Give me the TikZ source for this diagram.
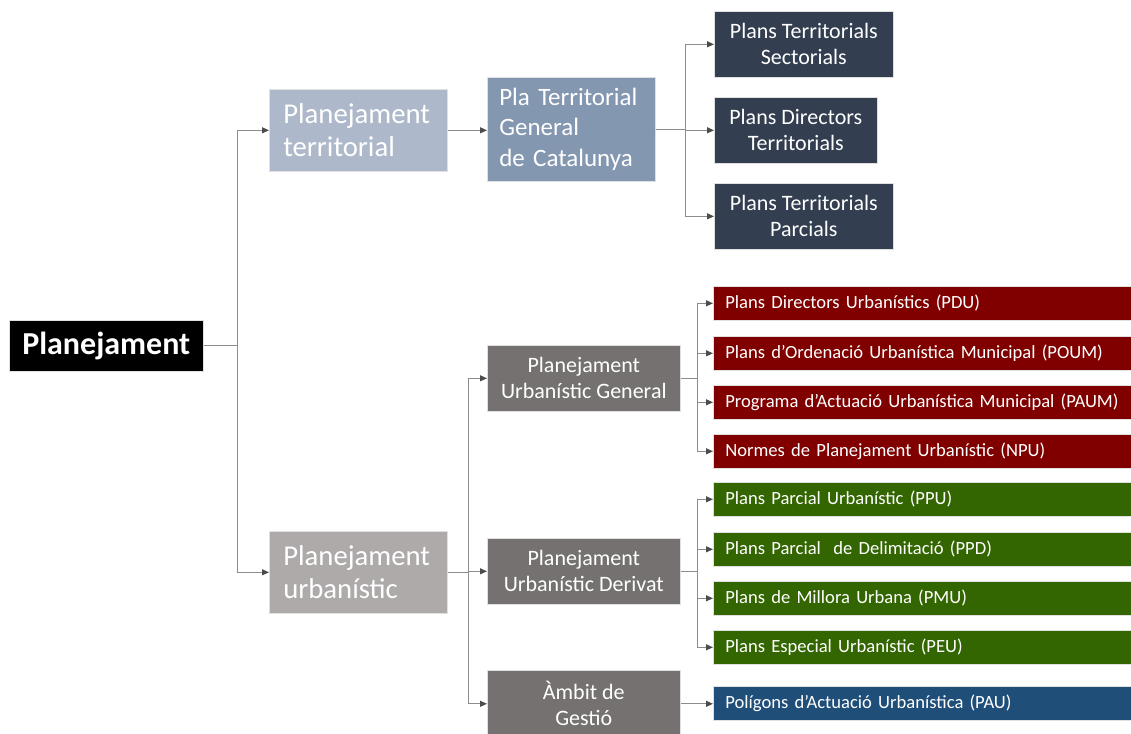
\documentclass[tikz,border=0pt]{standalone}
\usepackage{fontspec}
\setmainfont{Carlito}
\usetikzlibrary{arrows.meta}
\definecolor{terlight}{HTML}{ADB9CA}
\definecolor{termid}{HTML}{8497B0}
\definecolor{terdark}{HTML}{333F50}
\definecolor{urblight}{HTML}{AEAAAA}
\definecolor{urbmid}{HTML}{767171}
\definecolor{urbred}{HTML}{800000}
\definecolor{urbgreen}{HTML}{336600}
\definecolor{urbblue}{HTML}{1F4E79}
\definecolor{linkgray}{HTML}{8C8C8C}
\tikzset{
box/.style = { rectangle, anchor = north west, text = white, inner sep = 0pt, draw = black!12, line width = 0.6pt },
root/.style = { box, fill = black, minimum width = 194pt, minimum height = 51pt, font = \fontsize{32}{36}\selectfont\bfseries },
branch/.style = { box, fill = #1, text width = 150pt, inner xsep = 14pt, minimum height = 82pt, align = left, font = \fontsize{28.7}{33}\selectfont },
ptgc/.style = { box, fill = termid, text width = 144pt, inner xsep = 12pt, minimum height = 104pt, align = left, font = \fontsize{25}{30.5}\selectfont },
group/.style args = {#1, #2}{ box, fill = #1, minimum width = #2, minimum height = 66pt, align = center, font = \fontsize{22}{26}\selectfont },
leaf/.style = { box, fill = #1, text width = 405pt, inner xsep = 12pt, minimum height = 34pt, align = left, font = \fontsize{18.6}{21}\selectfont },
link/.style = { draw = linkgray, line width = 1.1pt, -{Triangle[length = 7pt, width = 6pt, color = black!70]} },
}
\begin{document}
\begin{tikzpicture}[x = 1pt, y = -1pt]
  \useasboundingbox (0, 0) rectangle (1131, 733);
  \node[root] (root) at (9, 320) {Planejament};
  \node[branch = terlight] (terr) at (269, 89) {Planejament\\territorial};
  \node[branch = urblight] (urb) at (269, 531) {Planejament\\urbanístic};
  \node[ptgc] (ptgc) at (487, 77) {Pla Territorial\\General\\de Catalunya};
  % territorial plans
  \node[group = {terdark, 179pt}] (pts) at (714, 11) {Plans Territorials\\Sectorials};
  \node[group = {terdark, 163pt}] (pdt) at (714, 97) {Plans Directors\\Territorials};
  \node[group = {terdark, 179pt}] (ptp) at (714, 183) {Plans Territorials\\Parcials};
  % urban plans
  \node[group = {urbmid, 193pt}] (pug) at (487, 345) {Planejament\\Urbanístic General};
  \node[group = {urbmid, 193pt}] (pud) at (487, 538) {Planejament\\Urbanístic Derivat};
  \node[group = {urbmid, 193pt}, minimum height = 67pt] (gest) at (487, 670) {Àmbit de\\Gestió};
  \node[leaf = urbred] (pdu) at (713, 286) {Plans Directors Urbanístics (PDU)};
  \node[leaf = urbred] (poum) at (713, 336) {Plans d’Ordenació Urbanística Municipal (POUM)};
  \node[leaf = urbred] (paum) at (713, 385) {Programa d’Actuació Urbanística Municipal (PAUM)};
  \node[leaf = urbred] (npu) at (713, 434) {Normes de Planejament Urbanístic (NPU)};
  \node[leaf = urbgreen] (ppu) at (713, 482) {Plans Parcial Urbanístic (PPU)};
  \node[leaf = urbgreen] (ppd) at (713, 532) {Plans Parcial~ de Delimitació (PPD)};
  \node[leaf = urbgreen] (pmu) at (713, 581) {Plans de Millora Urbana (PMU)};
  \node[leaf = urbgreen] (peu) at (713, 630) {Plans Especial Urbanístic (PEU)};
  \node[leaf = urbblue] (pau) at (713, 686) {Polígons d’Actuació Urbanística (PAU)};
  % connectors
  \draw[link] (root.east) -- ++(34, 0) |- (terr.west);
  \draw[link] (root.east) -- ++(34, 0) |- (urb.west);
  \draw[link] (terr.east) -- (terr.east -| ptgc.west);
  \draw[link] (ptgc.east) -- ++(30, 0) |- (pts.west);
  \draw[link] (ptgc.east) -- ++(30, 0) |- (pdt.west);
  \draw[link] (ptgc.east) -- ++(30, 0) |- (ptp.west);
  \draw[link] (urb.east) -- ++(21, 0) |- (pug.west);
  \draw[link] (urb.east) -- ++(21, 0) |- (pud.west);
  \draw[link] (urb.east) -- ++(21, 0) |- (gest.west);
  \draw[link] (pug.east) -- ++(17, 0) |- (pdu.west);
  \draw[link] (pug.east) -- ++(17, 0) |- (poum.west);
  \draw[link] (pug.east) -- ++(17, 0) |- (paum.west);
  \draw[link] (pug.east) -- ++(17, 0) |- (npu.west);
  \draw[link] (pud.east) -- ++(17, 0) |- (ppu.west);
  \draw[link] (pud.east) -- ++(17, 0) |- (ppd.west);
  \draw[link] (pud.east) -- ++(17, 0) |- (pmu.west);
  \draw[link] (pud.east) -- ++(17, 0) |- (peu.west);
  \draw[link] (gest.east) -- (gest.east -| pau.west);
\end{tikzpicture}
\end{document}
